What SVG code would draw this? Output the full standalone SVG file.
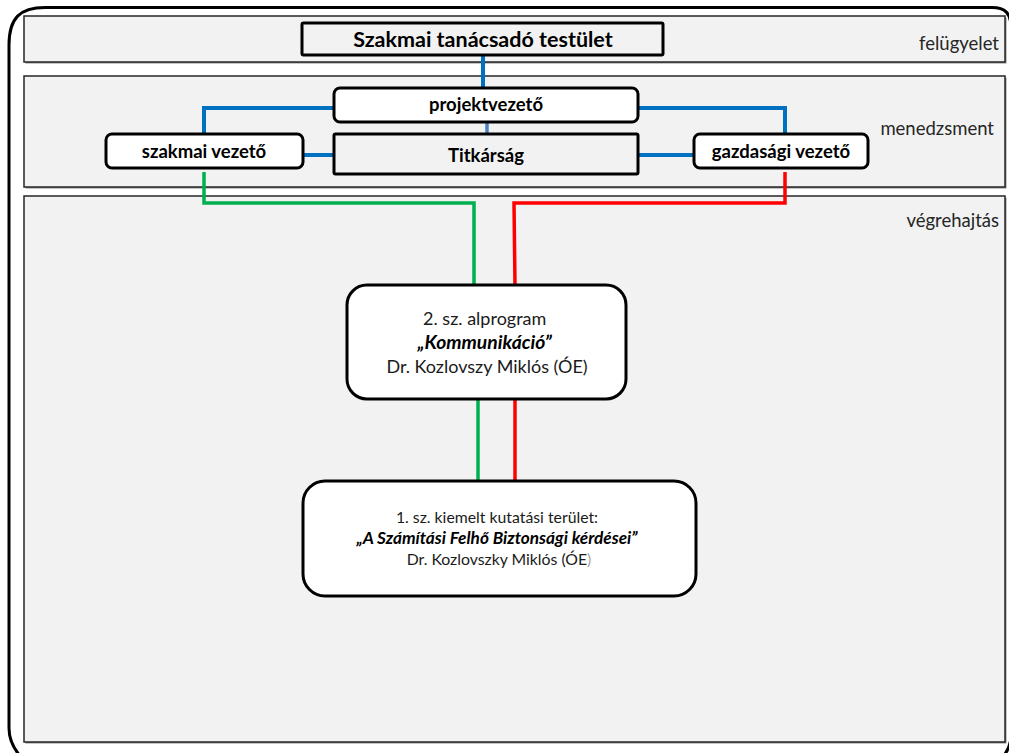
<svg xmlns="http://www.w3.org/2000/svg" width="1009" height="753" viewBox="0 0 1009 753">
  <style>
    .band { fill: #f2f2f2; stroke: #262626; stroke-width: 1.5; }
    .bandShadow { fill: #8c8c8c; }
    .lane { font-family: Lato, "Open Sans", sans-serif; font-size: 18.5px; fill: #262626; text-anchor: end; }
    .box { stroke: #000; stroke-width: 3; }
    .white { fill: #ffffff; }
    .grey { fill: #f2f2f2; }
    .title { font-family: Lato, "Open Sans", sans-serif; font-weight: bold; fill: #000; text-anchor: middle; }
    .body { font-family: Lato, "Open Sans", sans-serif; fill: #1a1a1a; text-anchor: middle; }
    .bi { font-weight: bold; font-style: italic; fill: #000; }
    .blue { stroke: #0070c0; stroke-width: 4; fill: none; }
    .blueThin { stroke: #4f81bd; stroke-width: 3.5; fill: none; }
    .green { stroke: #00b050; stroke-width: 3.5; fill: none; }
    .red { stroke: #ff0000; stroke-width: 3.5; fill: none; }
  </style>

  <rect width="1009" height="753" fill="#ffffff"/>

  <!-- outer frame -->
  <path d="M 9,45 C 9,18 20,7.5 45,7.5 L 992,7.5 C 1005,7.5 1011,13 1011,28 L 1011,735 C 1011,745 1008,752 1000,760 M 9,45 L 9,728 C 9,742 15,752 26,762" fill="none" stroke="#000" stroke-width="3"/>

  <!-- swimlanes -->
  <g id="lane-felugyelet">
    <rect class="bandShadow" x="25.5" y="17.5" width="981" height="46"/>
    <rect class="band" x="24" y="16" width="981" height="46"/>
    <text class="lane" x="999" y="50">felügyelet</text>
  </g>
  <g id="lane-menedzsment">
    <rect class="bandShadow" x="25.5" y="77.5" width="981" height="111"/>
    <rect class="band" x="24" y="76" width="981" height="111"/>
    <text class="lane" x="994" y="135">menedzsment</text>
  </g>
  <g id="lane-vegrehajtas">
    <rect class="bandShadow" x="25.5" y="197.5" width="981" height="546"/>
    <rect class="band" x="24" y="196" width="981" height="546"/>
    <text class="lane" x="999" y="227">végrehajtás</text>
  </g>

  <!-- connectors -->
  <g id="connectors">
    <line class="blue" x1="483" y1="55" x2="483" y2="88"/>
    <line class="blueThin" x1="487" y1="122" x2="487" y2="134"/>
    <polyline class="blue" points="334,108 204,108 204,134"/>
    <line class="blue" x1="303" y1="155" x2="334" y2="155"/>
    <polyline class="blue" points="638,108 785,108 785,134"/>
    <line class="blue" x1="638" y1="155" x2="694" y2="155"/>
    <polyline class="green" points="204,172 204,203 474,203 474,285"/>
    <polyline class="red" points="785,172 785,203 514,203 515,285"/>
    <line class="green" x1="478" y1="399" x2="478" y2="481"/>
    <line class="red" x1="515" y1="399" x2="515" y2="481"/>
  </g>

  <!-- nodes -->
  <g id="szakmai-tanacsado-testulet">
    <rect class="box grey" x="302" y="23" width="361" height="32" rx="1.5"/>
    <text class="title" x="483" y="47" font-size="21.5">Szakmai tanácsadó testület</text>
  </g>
  <g id="projektvezeto">
    <rect class="box white" x="334" y="88" width="304" height="34" rx="6"/>
    <text class="title" x="486" y="111" font-size="18.5">projektvezető</text>
  </g>
  <g id="titkarsag">
    <rect class="box grey" x="334" y="134" width="304" height="40" rx="1.5"/>
    <text class="title" x="486" y="162" font-size="18.5">Titkárság</text>
  </g>
  <g id="szakmai-vezeto">
    <rect class="box white" x="106" y="134" width="197" height="34" rx="6"/>
    <text class="title" x="204" y="158" font-size="18.5">szakmai vezető</text>
  </g>
  <g id="gazdasagi-vezeto">
    <rect class="box white" x="694" y="134" width="174" height="34" rx="6"/>
    <text class="title" x="781" y="158" font-size="18.5">gazdasági vezető</text>
  </g>
  <g id="alprogram-2">
    <rect class="box white" x="347" y="285" width="279" height="114" rx="20"/>
    <text class="body" x="487" font-size="18">
      <tspan x="487" y="325">2. sz. alprogram</tspan>
      <tspan x="487" y="349" class="bi" font-size="19.3">„Kommunikáció”</tspan>
      <tspan x="487" y="373">Dr. Kozlovszy Miklós (ÓE)</tspan>
    </text>
  </g>
  <g id="kutatasi-terulet-1">
    <rect class="box white" x="303" y="481" width="393" height="115" rx="22"/>
    <text class="body" x="499" font-size="15.8">
      <tspan x="499" y="523">1. sz. kiemelt kutatási terület:</tspan>
      <tspan x="499" y="544" class="bi" font-size="17.2">„A Számítási Felhő Biztonsági kérdései”</tspan>
      <tspan x="499" y="565">Dr. Kozlovszky Miklós (ÓE<tspan fill="#a6a6a6">)</tspan></tspan>
    </text>
  </g>
</svg>
